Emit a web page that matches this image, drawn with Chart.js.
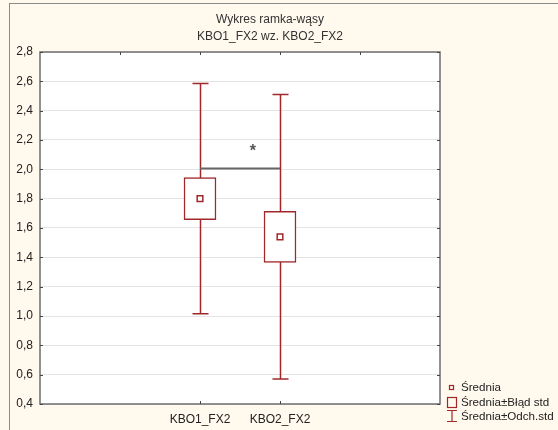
<!DOCTYPE html>
<html>
<head>
<meta charset="utf-8">
<script src="https://cdn.jsdelivr.net/npm/chart.js@4"></script>
<style>
  html, body { margin: 0; padding: 0; background: #fff9ee; }
</style>
</head>
<body>
<canvas id="myChart" width="558" height="430"></canvas>
<script>

// BOX-WHISKER CHART (mean, ±std error, ±std deviation)

const categories = ['KBO1_FX2', 'KBO2_FX2'];
const xPos = [1, 2];
const means = [1.80, 1.54];
const seLow = [1.656, 1.366];
const seHigh = [1.944, 1.714];
const sdLow = [1.015, 0.57];
const sdHigh = [2.585, 2.51];
const yTicks = [0.4, 0.6, 0.8, 1.0, 1.2, 1.4, 1.6, 1.8, 2.0, 2.2, 2.4, 2.6, 2.8];
const topTicks = [0, 1, 2, 3];

// significance bracket between the two groups
const sigLevel = 2.01;
const starX = 1.66;
const starY = 2.14;

const RED = '#a0282a';
const comma = v => v.toFixed(1).replace('.', ',');

Chart.defaults.font.family = "'Liberation Sans', Arial, sans-serif";
Chart.defaults.font.size = 12;
Chart.defaults.color = '#222';

const background = {
    id: 'background',
    beforeDraw(chart) {
        const { ctx, chartArea: a } = chart;
        ctx.save();
        ctx.fillStyle = '#fff9ee';
        ctx.fillRect(0, 0, chart.width, chart.height);
        ctx.strokeStyle = '#8a8a8a';
        ctx.lineWidth = 1;
        ctx.strokeRect(9.5, 3.5, chart.width + 20, chart.height + 20);
        ctx.fillStyle = '#ffffff';
        ctx.fillRect(a.left, a.top, a.right - a.left, a.bottom - a.top);
        ctx.restore();
    }
};

// whiskers go under the boxes
const whiskers = {
    id: 'whiskers',
    beforeDatasetsDraw(chart) {
        const { ctx, scales: { x, y } } = chart;
        ctx.save();
        ctx.strokeStyle = RED;
        ctx.lineWidth = 1.5;
        xPos.forEach((v, i) => {
            const px = Math.round(x.getPixelForValue(v)) + 0.5;
            const top = y.getPixelForValue(sdHigh[i]);
            const bot = y.getPixelForValue(sdLow[i]);
            ctx.beginPath();
            ctx.moveTo(px, top); ctx.lineTo(px, bot);
            ctx.moveTo(px - 8, top); ctx.lineTo(px + 8, top);
            ctx.moveTo(px - 8, bot); ctx.lineTo(px + 8, bot);
            ctx.stroke();
        });
        ctx.restore();
    }
};

const extras = {
    id: 'extras',
    afterDraw(chart) {
        const { ctx, chartArea: a, scales: { x, y } } = chart;
        ctx.save();

        // frame + inward tick marks
        ctx.strokeStyle = '#6e6e6e';
        ctx.lineWidth = 1.5;
        ctx.strokeRect(a.left, a.top, a.right - a.left, a.bottom - a.top);
        ctx.strokeStyle = '#444';
        ctx.lineWidth = 1;
        ctx.beginPath();
        yTicks.forEach(v => {
            const py = Math.round(y.getPixelForValue(v)) + 0.5;
            ctx.moveTo(a.left, py); ctx.lineTo(a.left + 3, py);
            ctx.moveTo(a.right - 3, py); ctx.lineTo(a.right, py);
        });
        topTicks.forEach(v => {
            const px = Math.round(x.getPixelForValue(v)) + 0.5;
            ctx.moveTo(px, a.top); ctx.lineTo(px, a.top + 3);
        });
        xPos.forEach(v => {
            const px = Math.round(x.getPixelForValue(v)) + 0.5;
            ctx.moveTo(px, a.bottom); ctx.lineTo(px, a.bottom - 3);
        });
        ctx.stroke();

        // significance line and star
        const sy = Math.round(y.getPixelForValue(sigLevel)) + 0.5;
        ctx.strokeStyle = '#666';
        ctx.lineWidth = 1.8;
        ctx.beginPath();
        ctx.moveTo(x.getPixelForValue(xPos[0]), sy);
        ctx.lineTo(x.getPixelForValue(xPos[1]), sy);
        ctx.stroke();
        ctx.fillStyle = '#555';
        ctx.font = "bold 16px 'Liberation Sans', Arial";
        ctx.textAlign = 'center';
        ctx.textBaseline = 'middle';
        ctx.fillText('*', x.getPixelForValue(starX), y.getPixelForValue(starY) + 3);

        // title
        ctx.fillStyle = '#333';
        ctx.font = "12px 'Liberation Sans', Arial";
        ctx.fillText('Wykres ramka-wąsy', 270, 20);
        ctx.fillText('KBO1_FX2 wz. KBO2_FX2', 270, 37);

        // legend
        ctx.textAlign = 'left';
        ctx.fillStyle = '#222';
        ctx.strokeStyle = RED;
        ctx.lineWidth = 1.2;
        ctx.strokeRect(449.5, 385.5, 4, 4);
        ctx.strokeRect(447.5, 397.5, 9, 10);
        ctx.beginPath();
        ctx.moveTo(452, 410); ctx.lineTo(452, 422);
        ctx.moveTo(447, 410.5); ctx.lineTo(457, 410.5);
        ctx.moveTo(447, 421.5); ctx.lineTo(457, 421.5);
        ctx.stroke();
        ctx.font = "11.6px 'Liberation Sans', Arial";
        ctx.fillText('Średnia', 461, 388);
        ctx.fillText('Średnia±Błąd std', 461, 403);
        ctx.fillText('Średnia±Odch.std', 461, 417);

        ctx.restore();
    }
};

const ctx = document.getElementById('myChart').getContext('2d');

const myChart = new Chart(ctx, {
    type: 'bar',
    data: {
        datasets: [{
            type: 'scatter',
            label: 'Średnia',
            data: xPos.map((v, i) => ({ x: v, y: means[i] })),
            pointStyle: 'rect',
            pointRadius: 4,
            pointBorderWidth: 1.5,
            borderColor: RED,
            backgroundColor: '#ffffff',
            order: 1
        }, {
            type: 'bar',
            label: 'Średnia±Błąd std',
            data: xPos.map((v, i) => ({ x: v, y: [seLow[i], seHigh[i]] })),
            backgroundColor: '#ffffff',
            borderColor: RED,
            borderWidth: 1.5,
            borderSkipped: false,
            barThickness: 32,
            order: 2
        }]
    },
    options: {
        responsive: false,
        devicePixelRatio: 1,
        animation: false,
        layout: {
            padding: { top: 52, right: 118, left: 0, bottom: 0 }
        },
        plugins: {
            legend: { display: false },
            tooltip: { enabled: false }
        },
        scales: {
            x: {
                type: 'linear',
                min: -1,
                max: 4,
                offset: false,
                grid: { display: false },
                border: { display: false },
                afterBuildTicks: s => { s.ticks = xPos.map(v => ({ value: v })); },
                afterFit: s => { s.height = 26; },
                ticks: {
                    padding: 0,
                    color: '#222',
                    callback: (v, i) => categories[i]
                }
            },
            y: {
                min: 0.4,
                max: 2.8,
                grid: { color: '#e4e4e4', drawTicks: false },
                border: { display: false },
                afterBuildTicks: s => { s.ticks = yTicks.map(v => ({ value: v })); },
                afterFit: s => { s.width = 40; },
                ticks: {
                    padding: 7,
                    color: '#222',
                    callback: v => comma(v)
                }
            }
        }
    },
    plugins: [background, whiskers, extras]
});

</script>
</body>
</html>
